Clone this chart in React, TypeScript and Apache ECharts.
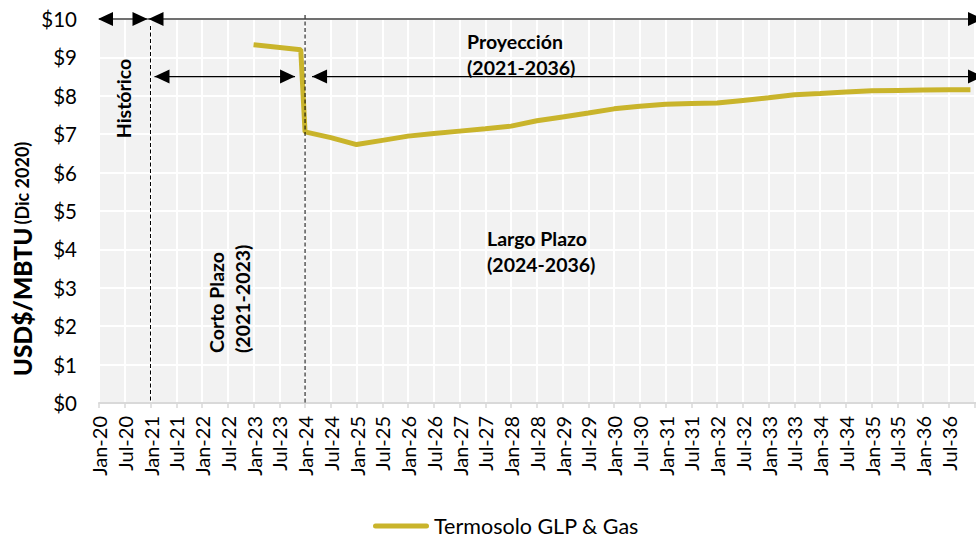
import React, { useEffect, useRef } from "react";
import * as echarts from "echarts";

const MONTHS = ["Jan", "Feb", "Mar", "Apr", "May", "Jun", "Jul", "Aug", "Sep", "Oct", "Nov", "Dec"];

const tickLabels = [
  "Jan-20", "Jul-20", "Jan-21", "Jul-21", "Jan-22", "Jul-22", "Jan-23", "Jul-23",
  "Jan-24", "Jul-24", "Jan-25", "Jul-25", "Jan-26", "Jul-26", "Jan-27", "Jul-27",
  "Jan-28", "Jul-28", "Jan-29", "Jul-29", "Jan-30", "Jul-30", "Jan-31", "Jul-31",
  "Jan-32", "Jul-32", "Jan-33", "Jul-33", "Jan-34", "Jul-34", "Jan-35", "Jul-35",
  "Jan-36", "Jul-36",
];

const pointDates = [
  "Jan-23", "Dec-23", "Jan-24", "Jul-24", "Jan-25", "Jul-25", "Jan-26", "Jul-26",
  "Jan-27", "Jul-27", "Jan-28", "Jul-28", "Jan-29", "Jul-29", "Jan-30", "Jul-30",
  "Jan-31", "Jul-31", "Jan-32", "Jul-32", "Jan-33", "Jul-33", "Jan-34", "Jul-34",
  "Jan-35", "Jul-35", "Jan-36", "Jul-36", "Dec-36",
];

const priceValues = [
  9.33, 9.2, 7.06, 6.91, 6.73, 6.84, 6.95, 7.02,
  7.08, 7.14, 7.21, 7.35, 7.45, 7.55, 7.66, 7.73,
  7.78, 7.8, 7.81, 7.88, 7.95, 8.03, 8.06, 8.1,
  8.13, 8.14, 8.15, 8.16, 8.16,
];

const seriesName = "Termosolo GLP & Gas";
const FONT = "Lato";
const LINE_COLOR = "#C9B42B";

const monthIdx = (s: string) => {
  const [m, y] = s.split("-");
  return (parseInt(y, 10) - 20) * 12 + MONTHS.indexOf(m);
};

export default function App() {
  const ref = useRef<HTMLDivElement>(null);

  useEffect(() => {
    document.body.style.margin = "0";
    document.body.style.overflow = "hidden";
    if (!ref.current) return;
    const chart = echarts.init(ref.current, undefined, { renderer: "svg" });

    const option: any = {
      animation: false,
      textStyle: { fontFamily: FONT },
      grid: {
        left: 99,
        right: 0,
        top: 19,
        bottom: 139,
        show: true,
        backgroundColor: "#f2f2f2",
        borderWidth: 0,
      },
      legend: {
        data: [
          {
            name: seriesName,
            icon: "path://M2.5,0 L53.5,0 A2.5,2.5 0 0 1 53.5,5 L2.5,5 A2.5,2.5 0 0 1 2.5,0 Z",
          },
        ],
        left: 373,
        top: 515,
        itemWidth: 56,
        itemHeight: 5,
        padding: 0,
        textStyle: { fontSize: 21.5, color: "#000", fontFamily: FONT },
      },
      xAxis: {
        type: "value",
        min: 0,
        max: 204.3,
        interval: 6,
        axisLine: { show: true, lineStyle: { color: "#d9d9d9", width: 2 } },
        axisTick: { show: true, length: 5, lineStyle: { color: "#d9d9d9", width: 1.5 } },
        splitLine: { show: true, lineStyle: { color: "#ffffff", width: 2 } },
        axisLabel: {
          rotate: 90,
          margin: 13,
          fontSize: 20,
          color: "#000",
          fontFamily: FONT,
          showMaxLabel: false,
          formatter: (v: number) => {
            const i = Math.round(v / 6);
            if (Math.abs(v - i * 6) < 1e-6 && i < tickLabels.length) return tickLabels[i];
            return "";
          },
        },
      },
      yAxis: {
        type: "value",
        min: 0,
        max: 10,
        interval: 1,
        axisLine: { show: false },
        axisTick: { show: false },
        splitLine: { show: true, lineStyle: { color: "#ffffff", width: 2 } },
        axisLabel: {
          margin: 22,
          fontSize: 20.5,
          color: "#000",
          fontFamily: FONT,
          formatter: (v: number) => "$" + v,
        },
      },
      series: [
        {
          name: seriesName,
          type: "line",
          data: pointDates.map((d, i) => [monthIdx(d), priceValues[i]]),
          symbol: "none",
          showSymbol: false,
          lineStyle: { color: LINE_COLOR, width: 5 },
          itemStyle: { color: LINE_COLOR },
          z: 2,
        },
      ],
    };

    chart.setOption(option);

    const px = (x: number, y: number) =>
      chart.convertToPixel({ gridIndex: 0 }, [x, y]) as number[];

    const xJan21 = px(12, 0)[0];
    const xJan24 = px(48, 0)[0];
    const xStart = px(0, 0)[0];
    const yBottom = px(0, 0)[1];
    const yTop = px(0, 10)[1];
    const yRow2 = px(0, 8.5)[1];
    const xEnd = 983;

    const headL = (tx: number, ty: number) => ({
      type: "polygon",
      z: 100,
      shape: { points: [[tx, ty], [tx + 15, ty - 7], [tx + 15, ty + 7]] },
      style: { fill: "#000" },
    });
    const headR = (tx: number, ty: number) => ({
      type: "polygon",
      z: 100,
      shape: { points: [[tx, ty], [tx - 15, ty - 7], [tx - 15, ty + 7]] },
      style: { fill: "#000" },
    });
    const hline = (x1: number, x2: number, y: number, color: string, w: number) => ({
      type: "line",
      z: 99,
      shape: { x1, y1: y, x2, y2: y },
      style: { stroke: color, lineWidth: w },
    });
    const boldText = (text: string, x: number, y: number, extra: any = {}) => ({
      type: "text",
      z: 100,
      x,
      y,
      ...extra,
      style: {
        text,
        fill: "#000",
        fontFamily: FONT,
        fontWeight: "bold",
        fontSize: 19.5,
        align: extra.align || "left",
        verticalAlign: "middle",
      },
    });

    const sepX = xJan21 - 3;

    chart.setOption({
      graphic: [
        {
          type: "line",
          z: 98,
          shape: { x1: xJan21, y1: yTop + 7, x2: xJan21, y2: yBottom },
          style: { stroke: "#000", lineWidth: 1, lineDash: [4, 2.5] },
        },
        {
          type: "line",
          z: 98,
          shape: { x1: xJan24, y1: yTop - 4, x2: xJan24, y2: yBottom },
          style: { stroke: "#000", lineWidth: 1, lineDash: [4, 2.5] },
        },
        hline(xStart, sepX, yTop, "#404040", 1.5),
        headL(xStart - 1, yTop),
        headR(sepX, yTop),
        hline(sepX, xEnd, yTop, "#404040", 1.5),
        headL(sepX + 1, yTop),
        headR(xEnd, yTop),
        hline(xJan21 + 4, xJan24 - 10, yRow2, "#000", 1.2),
        headL(xJan21 + 4, yRow2),
        headR(xJan24 - 10, yRow2),
        hline(xJan24 + 7, xEnd, yRow2, "#000", 1.2),
        headL(xJan24 + 7, yRow2),
        headR(xEnd, yRow2),
        boldText("Histórico", 123, 98.5, { rotation: Math.PI / 2, align: "center" }),
        boldText("Proyección", 467, 41),
        boldText("(2021-2036)", 467, 67),
        boldText("Largo Plazo", 487, 238),
        boldText("(2024-2036)", 487, 264),
        boldText("Corto Plazo", 216, 353, { rotation: Math.PI / 2 }),
        boldText("(2021-2023)", 242, 353, { rotation: Math.PI / 2 }),
        {
          type: "text",
          z: 100,
          x: 22,
          y: 259,
          rotation: Math.PI / 2,
          style: {
            text: "{a|USD$/MBTU} {b|(Dic 2020)}",
            align: "center",
            verticalAlign: "middle",
            fill: "#000",
            fontFamily: FONT,
            rich: {
              a: { fontSize: 24.5, fontWeight: 900, fontFamily: FONT, fill: "#000" },
              b: { fontSize: 18, fontWeight: "bold", fontFamily: FONT, fill: "#000" },
            },
          },
        },
      ],
    });

    return () => chart.dispose();
  }, []);

  return <div ref={ref} style={{ width: 976, height: 542 }} />;
}
